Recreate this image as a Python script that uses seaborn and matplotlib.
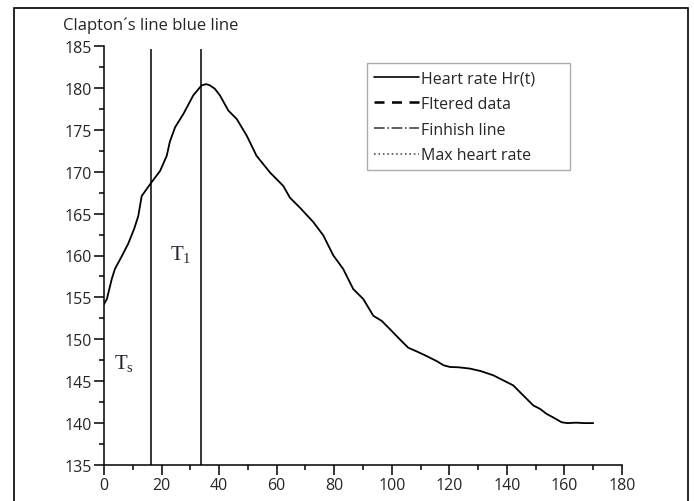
import numpy as np
import pandas as pd
import seaborn as sns
import matplotlib.pyplot as plt
from matplotlib.lines import Line2D
from matplotlib.patches import Rectangle

# tiempo (s) y frecuencia cardiaca
tiempo = [0, 1, 2.7, 3.8, 6, 8.4, 10.5, 11.9, 13.1, 16, 19.5, 21.8, 22.9, 24.7, 27.6, 31,
          33.9, 35.5, 36.8, 38.5, 40.3, 43.2, 46.1, 49.6, 53, 57.7, 62.3, 64.6, 68.1,
          72.7, 76.2, 79.7, 83.1, 86.6, 90.1, 93.6, 96.5, 99.4, 102.5, 105.7, 109,
          112.1, 115.6, 118, 120.2, 123.5, 127.2, 131, 135.3, 139.9, 142.2, 145.7,
          149.2, 151.5, 153.8, 156.5, 159, 161, 164, 167, 170]
hr = [154.2, 154.8, 157.2, 158.4, 159.8, 161.4, 163.2, 164.7, 167.1, 168.5, 170.1,
      171.9, 173.6, 175.3, 176.9, 179.1, 180.3, 180.45, 180.3, 179.9, 179.1, 177.3,
      176.3, 174.3, 171.9, 169.9, 168.3, 166.9, 165.7, 164.0, 162.4, 160.0, 158.4,
      156.0, 154.8, 152.8, 152.2, 151.2, 150.1, 149.0, 148.5, 148.0, 147.4, 146.9,
      146.7, 146.65, 146.5, 146.2, 145.7, 144.9, 144.5, 143.3, 142.1, 141.7, 141.1,
      140.6, 140.1, 140.0, 140.05, 140.0, 140.0]

# lineas verticales Ts y T1
lineas_v = [16.3, 33.8]
etiquetas_v = ["T$_\\mathrm{s}$", "T$_1$"]
pos_etiquetas = [(7, 147.2), (26.8, 160.2)]

leyenda = ["Heart rate Hr(t)", "Fltered data", "Finhish line", "Max heart rate"]

df = pd.DataFrame({"t": tiempo, "hr": hr})

sns.set_style("ticks")
plt.rcParams['font.family'] = ['Open Sans', 'DejaVu Sans']
plt.rcParams['mathtext.fontset'] = 'custom'
plt.rcParams['mathtext.rm'] = 'Liberation Serif'

fig = plt.figure(figsize=(6.94, 5.02), dpi=100)
ax = fig.add_axes([104 / 694, 36 / 502, 518 / 694, 419 / 502])

sns.lineplot(data=df, x="t", y="hr", ax=ax, color="black", linewidth=1.3)
ax.vlines(lineas_v, 135, 184.6, color="black", linewidth=1.1)

for txt, (xx, yy) in zip(etiquetas_v, pos_etiquetas):
    ax.text(xx, yy, txt, fontsize=15, family='Liberation Serif', color="#222233",
            ha="center", va="center")

ax.set_xlim(0, 180)
ax.set_ylim(135, 185)
ax.set_xticks(np.arange(0, 181, 20))
ax.set_xticks(np.arange(0, 181, 10), minor=True)
ax.set_yticks(np.arange(135, 186, 5))
ax.set_yticks(np.arange(135, 186, 2.5), minor=True)
ax.tick_params(axis="both", which="major", length=7, width=1.1, labelsize=11.5, pad=2, color="black")
ax.tick_params(axis="both", which="minor", length=3.5, width=1.1, color="black")
ax.set_xlabel("")
ax.set_ylabel("")
sns.despine(ax=ax)
for s in ["left", "bottom"]:
    ax.spines[s].set_linewidth(1.1)
    ax.spines[s].set_color("black")

handles = [Line2D([], [], color="black", lw=1.2, ls="-"),
           Line2D([], [], color="black", lw=1.8, ls=(0, (4, 3))),
           Line2D([], [], color="#444444", lw=1.2, ls="-."),
           Line2D([], [], color="#555555", lw=1.2, ls=":")]
leg = ax.legend(handles, leyenda, loc="upper left",
                bbox_to_anchor=(0.508, 0.699, 0.392, 0.26), mode="expand",
                borderaxespad=0, fancybox=False, frameon=True, fontsize=11.5,
                handlelength=2.8, handletextpad=0.1, labelspacing=0.6,
                borderpad=0.45, edgecolor="#999999")
leg.get_frame().set_linewidth(1.0)

fig.text(63 / 694, 1 - 26 / 502, "Clapton\u00b4s line blue line", fontsize=12,
         ha="left", va="center")

fig.add_artist(Rectangle((14 / 694, -0.1), 674 / 694, 1 - 9 / 502 + 0.1,
                         transform=fig.transFigure, fill=False, lw=1.2, ec="black"))

fig.savefig("out.png", dpi=100)
